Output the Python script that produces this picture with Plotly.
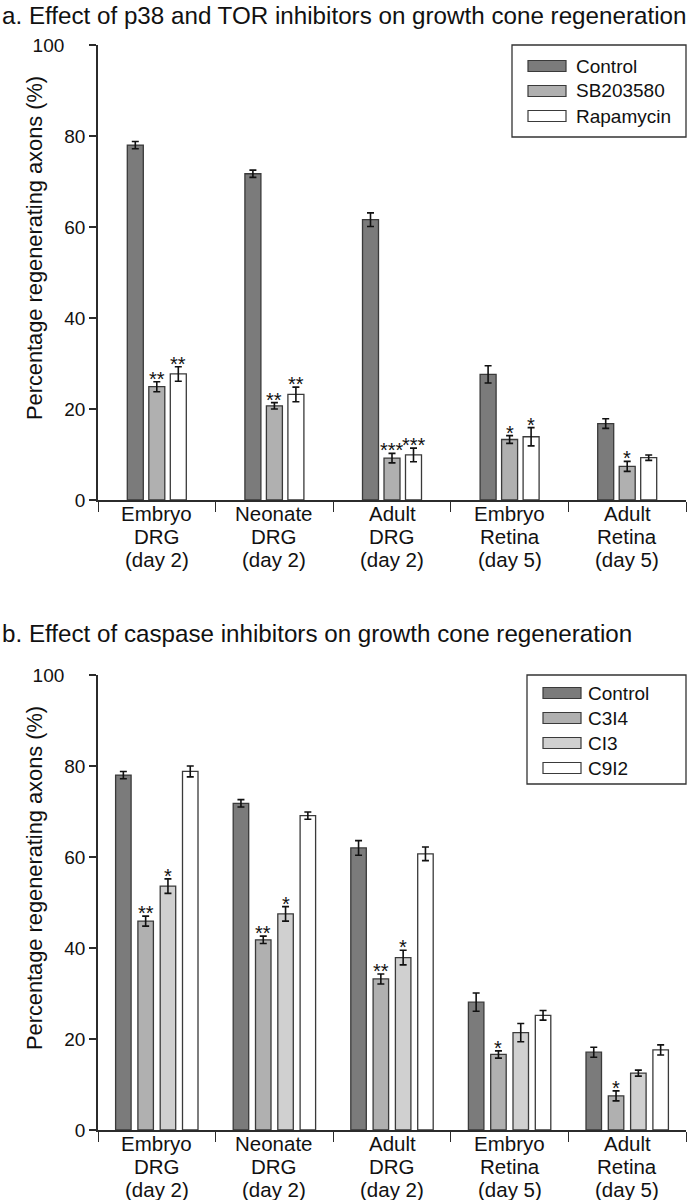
import plotly.graph_objects as go

# ---------------- data ----------------
categories = ["Embryo<br>DRG<br>(day 2)", "Neonate<br>DRG<br>(day 2)", "Adult<br>DRG<br>(day 2)",
              "Embryo<br>Retina<br>(day 5)", "Adult<br>Retina<br>(day 5)"]
y_tickvals = [0, 20, 40, 60, 80, 100]
y_ticktext = ["0", "20", "40", "60", "80", "100"]

a_series = ["Control", "SB203580", "Rapamycin"]
a_control = [78.0, 71.7, 61.6, 27.6, 16.8]
a_control_err = [0.8, 0.8, 1.5, 1.9, 1.05]
a_sb = [24.9, 20.7, 9.2, 13.3, 7.4]
a_sb_err = [1.1, 0.7, 1.05, 0.85, 1.1]
a_rap = [27.7, 23.2, 9.9, 13.9, 9.3]
a_rap_err = [1.6, 1.6, 1.5, 2.0, 0.6]
a_control_sig = ["", "", "", "", ""]
a_sb_sig = ["**", "**", "***", "*", "*"]
a_rap_sig = ["**", "**", "***", "*", ""]

b_series = ["Control", "C3I4", "CI3", "C9I2"]
b_control = [78.0, 71.8, 62.0, 28.1, 17.1]
b_control_err = [0.8, 0.8, 1.6, 2.0, 1.1]
b_c3i4 = [45.9, 41.8, 33.2, 16.6, 7.5]
b_c3i4_err = [1.1, 0.8, 1.1, 0.8, 1.1]
b_ci3 = [53.6, 47.5, 37.9, 21.4, 12.5]
b_ci3_err = [1.6, 1.6, 1.6, 2.0, 0.65]
b_c9i2 = [78.8, 69.1, 60.7, 25.2, 17.6]
b_c9i2_err = [1.2, 0.8, 1.5, 1.05, 1.1]
b_control_sig = ["", "", "", "", ""]
b_c3i4_sig = ["**", "**", "**", "*", "*"]
b_ci3_sig = ["*", "*", "*", "", ""]
b_c9i2_sig = ["", "", "", "", ""]

title_a = "a. Effect of p38 and TOR inhibitors on growth cone regeneration"
title_b = "b. Effect of caspase inhibitors on growth cone regeneration"
y_title = "Percentage regenerating axons (%)"

# ---------------- styles ----------------
W, H = 692, 1200
FONT = "Liberation Sans, Arial, Helvetica, sans-serif"
AXC = "#2b2b2b"
OUTLINE = "#3a3a3a"
TXT = "#111111"
a_colors = ["#7b7b7b", "#b0b0b0", "#ffffff"]
b_colors = ["#7b7b7b", "#b0b0b0", "#d0d0d0", "#ffffff"]

X0, X1 = 98, 686
A_TOP, A_BOT = 45, 500
B_TOP, B_BOT = 675, 1130
cat_px = (X1 - X0) / len(categories)
LABEL_LINES = (13, 36, 59)   # px below the axis line for each label line


def px(x):
    return x / W


def py(y):
    return 1 - y / H


fig = go.Figure()
annotations = []
shapes = []


def add_panel(xa, ya, axis_y, series_vals, series_errs, series_sigs, colors, slot_px, bar_px):
    n = len(series_vals)
    slot = slot_px / cat_px
    bw = bar_px / cat_px
    for i, (vals, errs, sigs, col) in enumerate(zip(series_vals, series_errs, series_sigs, colors)):
        off = (i - n / 2) * slot + (slot - bw) / 2
        fig.add_trace(go.Bar(
            x=categories, y=vals, xaxis=xa, yaxis=ya,
            width=bw, offset=off,
            marker=dict(color=col, line=dict(color=OUTLINE, width=1.3)),
            error_y=dict(type="data", array=errs, color=TXT, thickness=1.6, width=3.5),
            showlegend=False, hoverinfo="skip",
        ))
        for k, (v, e, s) in enumerate(zip(vals, errs, sigs)):
            if s:
                annotations.append(dict(
                    x=k + off + bw / 2, y=v + e, xref=xa, yref=ya,
                    text=s, showarrow=False, yanchor="bottom", xanchor="center",
                    yshift=-10, font=dict(family=FONT, size=20, color=TXT),
                ))
    # category labels (tighter line spacing than plotly's tick labels allow)
    for k, cat in enumerate(categories):
        for line, dy in zip(cat.split("<br>"), LABEL_LINES):
            annotations.append(dict(
                x=k, y=py(axis_y + dy), xref=xa, yref="paper", text=line, showarrow=False,
                xanchor="center", yanchor="middle", font=dict(family=FONT, size=20.5, color=TXT),
            ))


add_panel("x", "y", A_BOT, [a_control, a_sb, a_rap], [a_control_err, a_sb_err, a_rap_err],
          [a_control_sig, a_sb_sig, a_rap_sig], a_colors, 21.5, 16)
add_panel("x2", "y2", B_BOT, [b_control, b_c3i4, b_ci3, b_c9i2],
          [b_control_err, b_c3i4_err, b_ci3_err, b_c9i2_err],
          [b_control_sig, b_c3i4_sig, b_ci3_sig, b_c9i2_sig], b_colors, 22.3, 15.5)


def legend(names, colors, left, top, bottom, sw_left, sw_right, text_x, row0, row_step):
    shapes.append(dict(type="rect", xref="paper", yref="paper",
                       x0=px(left), x1=px(X1), y0=py(bottom), y1=py(top),
                       line=dict(color="#333333", width=1.3), fillcolor="white", layer="above"))
    for i, (nm, col) in enumerate(zip(names, colors)):
        cy = row0 + i * row_step
        shapes.append(dict(type="rect", xref="paper", yref="paper",
                           x0=px(sw_left), x1=px(sw_right), y0=py(cy + 5.5), y1=py(cy - 5.5),
                           line=dict(color=OUTLINE, width=1.2), fillcolor=col, layer="above"))
        annotations.append(dict(x=px(text_x), y=py(cy), xref="paper", yref="paper",
                                text=nm, showarrow=False, xanchor="left", yanchor="middle",
                                font=dict(family=FONT, size=19, color=TXT)))


legend(a_series, a_colors, 512, 45, 137, 528, 566, 574, 66, 25)
legend(b_series, b_colors, 527, 675, 784, 543, 581, 586, 693, 25)

# titles
annotations.append(dict(x=0, y=1, xref="paper", yref="paper", text=title_a, showarrow=False,
                        xanchor="left", yanchor="top", font=dict(family=FONT, size=24.2, color=TXT)))
annotations.append(dict(x=0, y=py(618), xref="paper", yref="paper", text=title_b, showarrow=False,
                        xanchor="left", yanchor="top", font=dict(family=FONT, size=24.2, color=TXT)))
for yc in (248, 878):
    annotations.append(dict(x=px(34), y=py(yc), xref="paper", yref="paper", text=y_title,
                            showarrow=False, textangle=-90, xanchor="center", yanchor="middle",
                            font=dict(family=FONT, size=21.8, color=TXT)))

# the top label "100" sits further left of its tick in the reference
y_ticktext_drawn = [t + ("&nbsp;" * 4 if v == 100 else "") for t, v in zip(y_ticktext, y_tickvals)]

xaxis_common = dict(type="category", range=[-0.5, 4.5], showline=True, linecolor=AXC, linewidth=1.5,
                    ticks="outside", tickson="boundaries", ticklen=10, tickwidth=1.3, tickcolor=AXC,
                    showticklabels=False, showgrid=False, zeroline=False,
                    fixedrange=True, automargin=False)
yaxis_common = dict(range=[0, 100], tickmode="array", tickvals=y_tickvals, ticktext=y_ticktext_drawn,
                    showline=True, linecolor=AXC, linewidth=1.5,
                    ticks="outside", ticklen=7, tickwidth=1.8, tickcolor=AXC,
                    tickfont=dict(family=FONT, size=19, color=TXT), showgrid=False, zeroline=False,
                    fixedrange=True, automargin=False)

fig.update_layout(
    width=W, height=H,
    margin=dict(l=0, r=0, t=0, b=0, pad=0),
    paper_bgcolor="white", plot_bgcolor="white",
    barmode="overlay",
    showlegend=False,
    xaxis=dict(domain=[px(X0), px(X1)], anchor="y", **xaxis_common),
    yaxis=dict(domain=[py(A_BOT), py(A_TOP)], anchor="x", **yaxis_common),
    xaxis2=dict(domain=[px(X0), px(X1)], anchor="y2", **xaxis_common),
    yaxis2=dict(domain=[py(B_BOT), py(B_TOP)], anchor="x2", **yaxis_common),
    annotations=annotations,
    shapes=shapes,
    font=dict(family=FONT),
)

fig.write_html("out.html", config={"displayModeBar": False},
               post_script="document.body.style.margin='0px';")
